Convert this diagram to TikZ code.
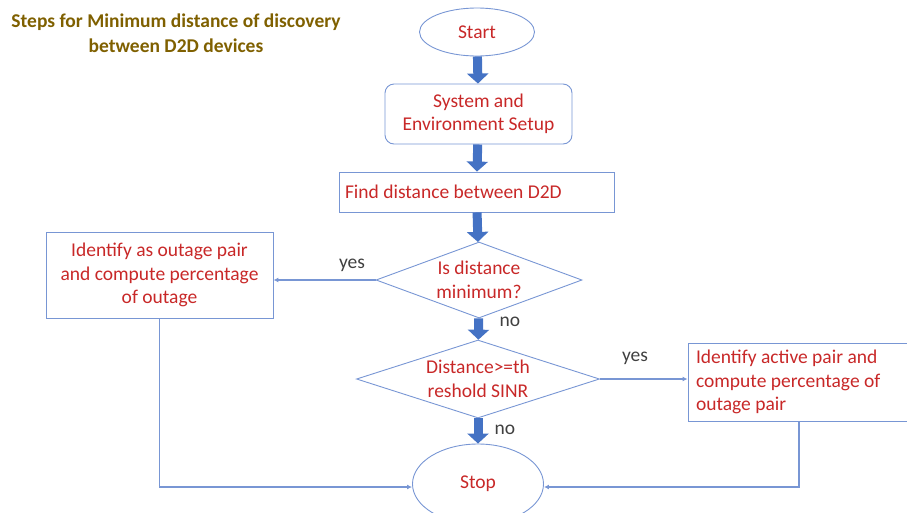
\documentclass[tikz,border=0pt]{standalone}
\usepackage{fontspec}
\setmainfont{Carlito}
\usetikzlibrary{shapes.geometric,arrows.meta}

\definecolor{boxblue}{RGB}{120,150,212}
\definecolor{arrowblue}{RGB}{68,114,196}
\definecolor{textred}{RGB}{200,40,40}
\definecolor{titlegold}{RGB}{127,96,0}

\begin{document}
\begin{tikzpicture}[x=1pt, y=-1pt,
    every node/.style = {font=\fontsize{19.5}{23.5}\selectfont},
    redtext/.style    = {text=textred, align=center},
    terminal/.style   = {shape=ellipse, draw=boxblue, line width=0.9pt, redtext, inner sep=0pt},
    procbox/.style    = {shape=rectangle, draw=boxblue, line width=0.9pt, redtext, inner sep=0pt},
    decision/.style   = {shape=diamond, draw=boxblue, line width=0.9pt, redtext, inner sep=0pt},
    bigarrow/.style   = {draw=arrowblue, line width=9pt, -{Triangle[length=10pt, width=21pt]}},
    thinarrow/.style  = {draw=boxblue, line width=1.1pt, -{Latex[length=5pt, width=5pt]}},
    answer/.style     = {text=black!75}
  ]
  \useasboundingbox (0,0) rectangle (907,512);

  % title
  \node[text=titlegold, font=\fontsize{19.5}{25}\selectfont\bfseries, align=center]
    at (176, 33) (title) {Steps for Minimum distance of discovery\\between D2D devices};

  % ------------------------------------------------------------------------
  % Main column
  \node[terminal, minimum width=115pt, minimum height=48pt] at (477, 32) (start) {Start};

  \node[procbox, rounded corners=9pt, minimum width=187pt, minimum height=60pt]
    at (478.5, 114) (setup) {System and\\Environment Setup};

  \node[procbox, minimum height=40pt, text width=263pt, inner xsep=6pt, align=flush left]
    at (476.5, 192) (find) {Find distance between D2D};

  \node[decision, shape aspect=2.7, minimum width=206pt, minimum height=76pt]
    at (479, 280) (mindist) {Is distance\\minimum?};

  \node[decision, shape aspect=3.1, minimum width=243pt, minimum height=78pt]
    at (478, 379) (sinr) {Distance>=th\\reshold SINR};

  \node[terminal, minimum width=131pt, minimum height=80pt] at (478, 484) (stop) {Stop};

  % ------------------------------------------------------------------------
  % Side boxes
  \node[procbox, minimum width=227pt, minimum height=86pt]
    at (159.5, 275) (outage) {Identify as outage pair\\and compute percentage\\of outage};

  \node[procbox, minimum height=78pt, text width=206pt, inner xsep=8pt, align=flush left]
    at (799, 382) (active) {Identify active pair and\\compute percentage of\\outage pair};

  \node[answer] at (352, 265) (yes1) {yes};
  \node[answer] at (510, 322) (no1) {no};
  \node[answer] at (635, 358) (yes2) {yes};
  \node[answer] at (505, 430) (no2) {no};

  \draw[bigarrow] (start) -- (setup);
  \draw[bigarrow] (setup) -- (find);
  \draw[bigarrow] (find) -- (mindist);
  \draw[bigarrow] (mindist) -- (sinr);
  \draw[bigarrow] (sinr) -- (stop);

  \draw[thinarrow] (mindist.west) -- (mindist.west -| outage.east);
  \draw[thinarrow] (sinr.east) -- (sinr.east -| active.west);
  \draw[thinarrow] (outage.south) |- ([yshift=-3pt]stop.west);
  \draw[thinarrow] (active.south) |- ([yshift=-3pt]stop.east);
\end{tikzpicture}
\end{document}
